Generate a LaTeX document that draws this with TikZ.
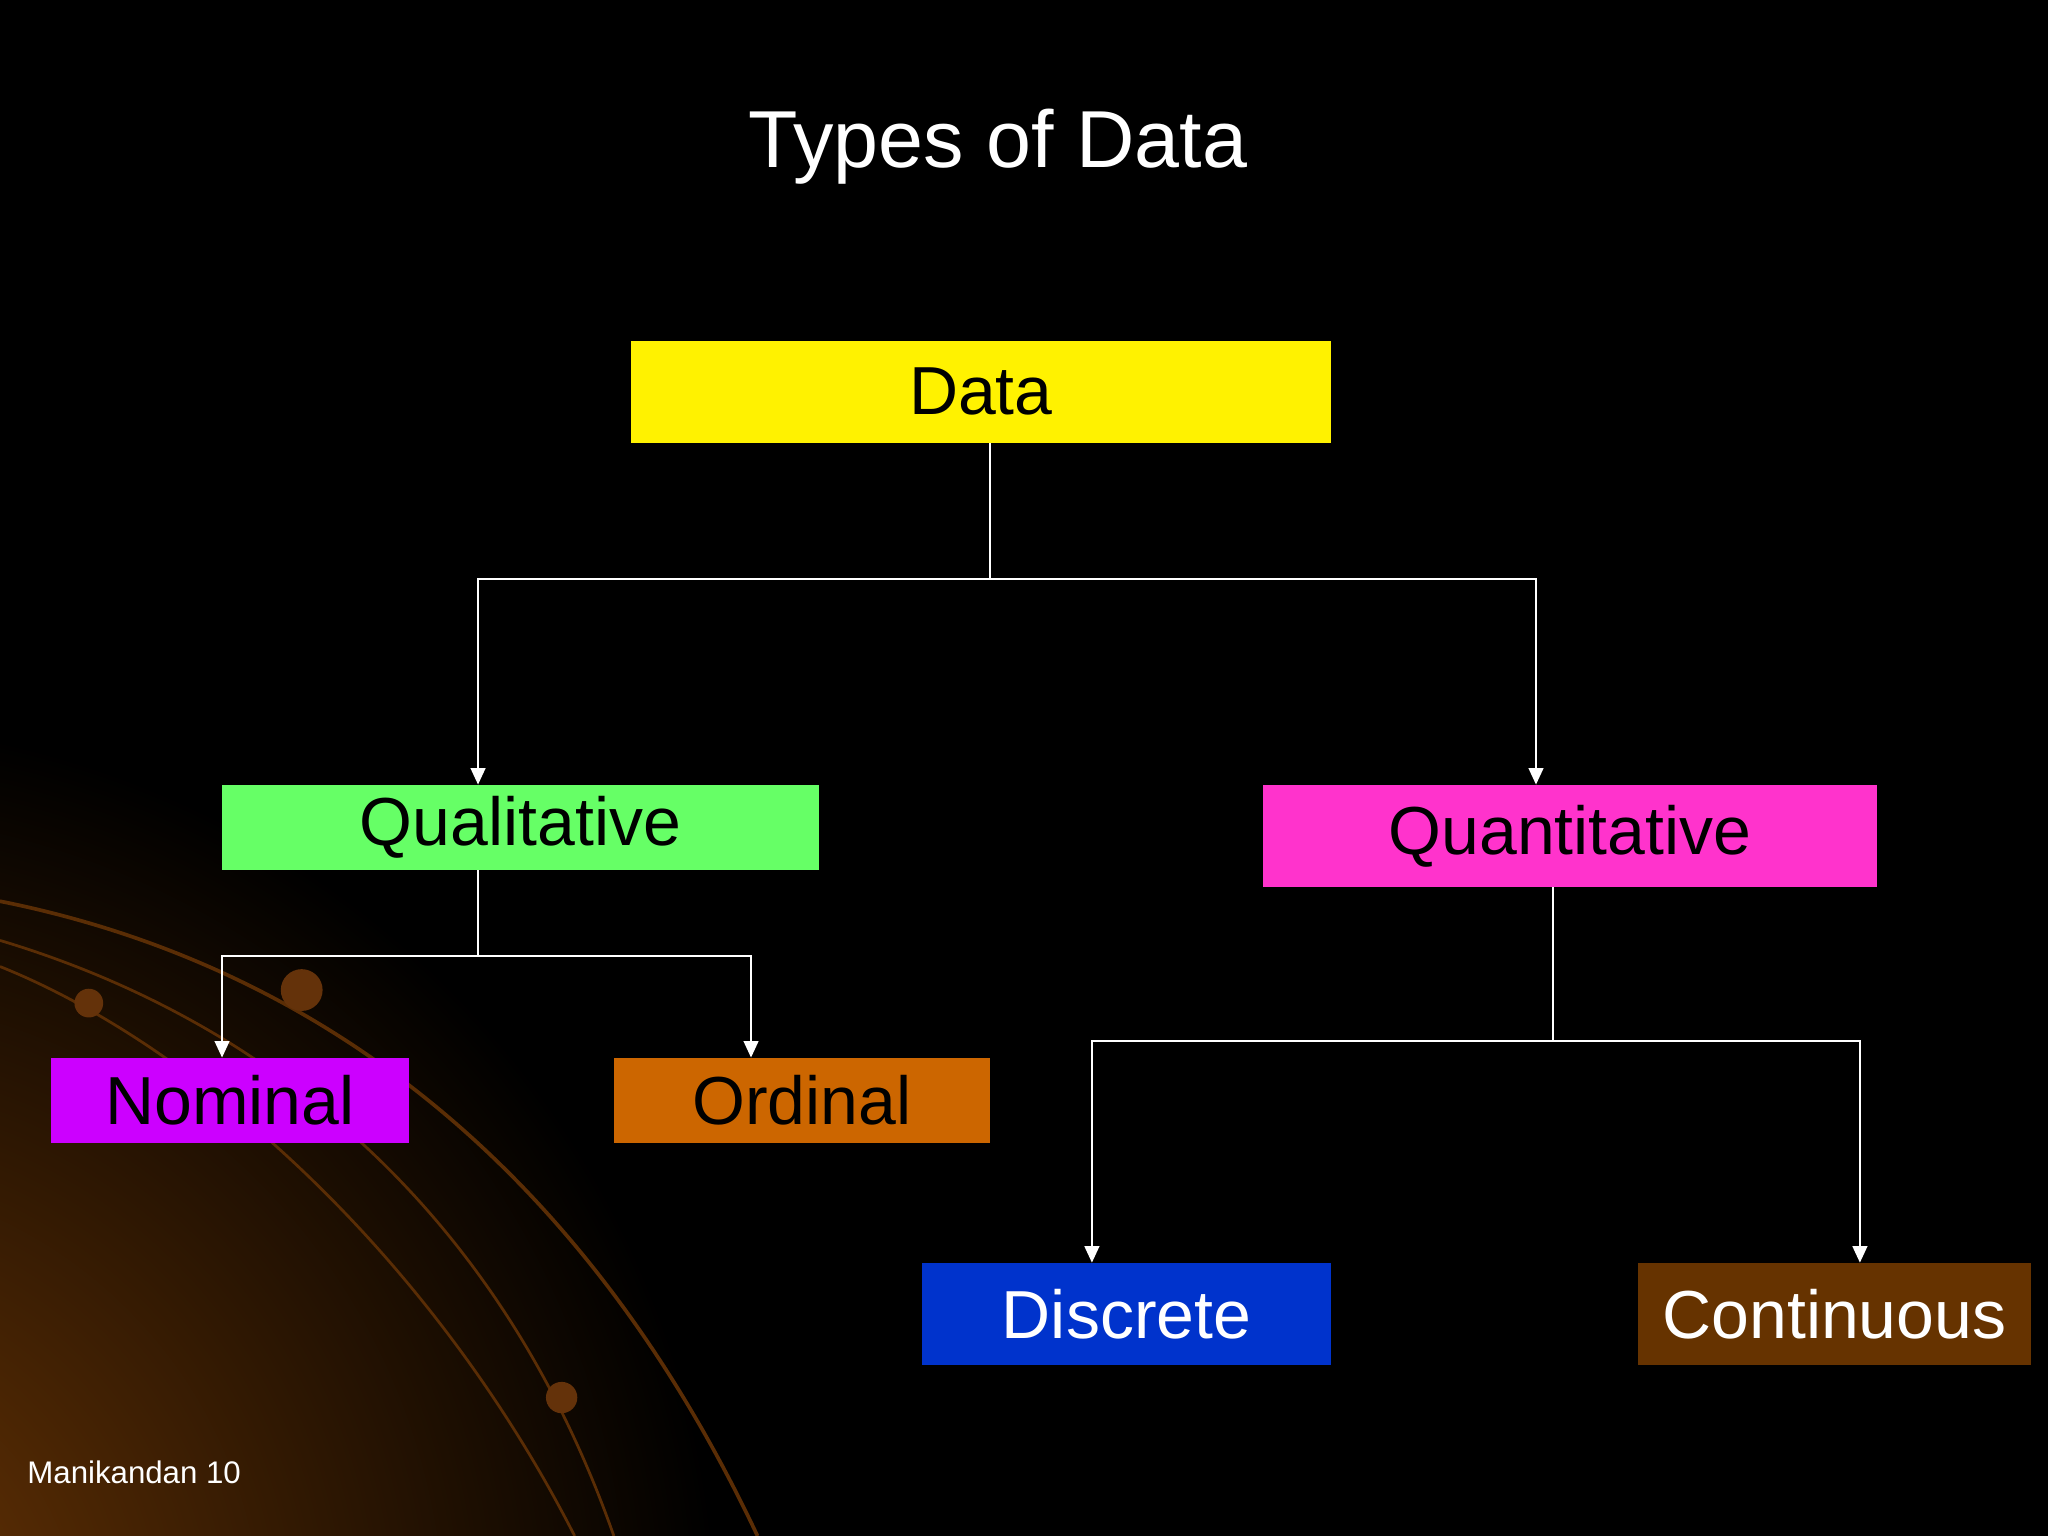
\documentclass[tikz,border=0pt]{standalone}
\usepackage{fontspec}
\setmainfont{Liberation Sans}
\usetikzlibrary{arrows.meta}
\definecolor{glow}{RGB}{110,55,5}
\definecolor{swoosh}{RGB}{90,45,5}
\definecolor{ball}{RGB}{100,50,10}
\definecolor{cgreen}{RGB}{102,255,102}
\definecolor{cmag}{RGB}{255,51,204}
\definecolor{cpurp}{RGB}{204,0,255}
\definecolor{corange}{RGB}{204,102,0}
\definecolor{cblue}{RGB}{0,51,204}
\definecolor{cbrown}{RGB}{102,51,0}
\begin{document}
\begin{tikzpicture}[x=0.025cm,y=-0.025cm,
  box/.style={minimum height=#1*0.025cm, inner sep=0pt, font=\fontsize{37}{37}\selectfont},
  con/.style={draw=white, line width=1.2pt},
  arr/.style={con, -{Triangle[length=9pt,width=8pt]}}]
\useasboundingbox (0,0) rectangle (1568,1176);
\fill[black] (0,0) rectangle (1568,1176);
\begin{scope}
\clip (0,0) rectangle (1568,1176);
\shade[inner color=glow, outer color=black] (-150,1250) circle (700);
\draw[swoosh, line width=2pt] (0,690) .. controls (250,740) and (450,900) .. (580,1176);
\draw[swoosh, line width=1.5pt] (0,720) .. controls (200,780) and (380,920) .. (470,1176);
\draw[swoosh, line width=1.5pt] (0,740) .. controls (150,800) and (330,960) .. (440,1176);
\fill[ball] (68,768) circle (11);
\fill[ball] (231,758) circle (16);
\fill[ball] (430,1070) circle (12);
\end{scope}
\node[text=white, font=\fontsize{44}{44}\selectfont] (title) at (764,112) {Types of Data};
\node[text=white, font=\fontsize{17}{17}\selectfont, anchor=west] (foot) at (16,1127) {Manikandan 10};

\node[box=78, fill=yellow, minimum width=536*0.025cm] (data) at (751,300) {Data};
\node[box=65, fill=cgreen, minimum width=457*0.025cm] (qual) at (398.5,633.5) {Qualitative};
\node[box=78, fill=cmag, minimum width=470*0.025cm] (quan) at (1202,640) {Quantitative};
\node[box=65, fill=cpurp, minimum width=274*0.025cm] (nom) at (176,842.5) {Nominal};
\node[box=65, fill=corange, minimum width=288*0.025cm] (ord) at (614,842.5) {Ordinal};
\node[box=78, fill=cblue, text=white, minimum width=313*0.025cm] (disc) at (862.5,1006) {Discrete};
\node[box=78, fill=cbrown, text=white, minimum width=301*0.025cm] (cont) at (1404.5,1006) {Continuous};

\coordinate (j1) at (758,443);
\coordinate (j1l) at (366,443);
\coordinate (j1r) at (1176,443);
\draw[con] (data.south -| j1) -- (j1);
\draw[arr] (j1) -- (j1l) -- (j1l |- qual.north);
\draw[arr] (j1) -- (j1r) -- (j1r |- quan.north);

\coordinate (j2) at (366,732);
\coordinate (j2l) at (170,732);
\coordinate (j2r) at (575,732);
\draw[con] (qual.south -| j2) -- (j2);
\draw[arr] (j2) -- (j2l) -- (j2l |- nom.north);
\draw[arr] (j2) -- (j2r) -- (j2r |- ord.north);

\coordinate (j3) at (1189,797);
\coordinate (j3l) at (836,797);
\coordinate (j3r) at (1424,797);
\draw[con] (quan.south -| j3) -- (j3);
\draw[arr] (j3) -- (j3l) -- (j3l |- disc.north);
\draw[arr] (j3) -- (j3r) -- (j3r |- cont.north);
\end{tikzpicture}
\end{document}
